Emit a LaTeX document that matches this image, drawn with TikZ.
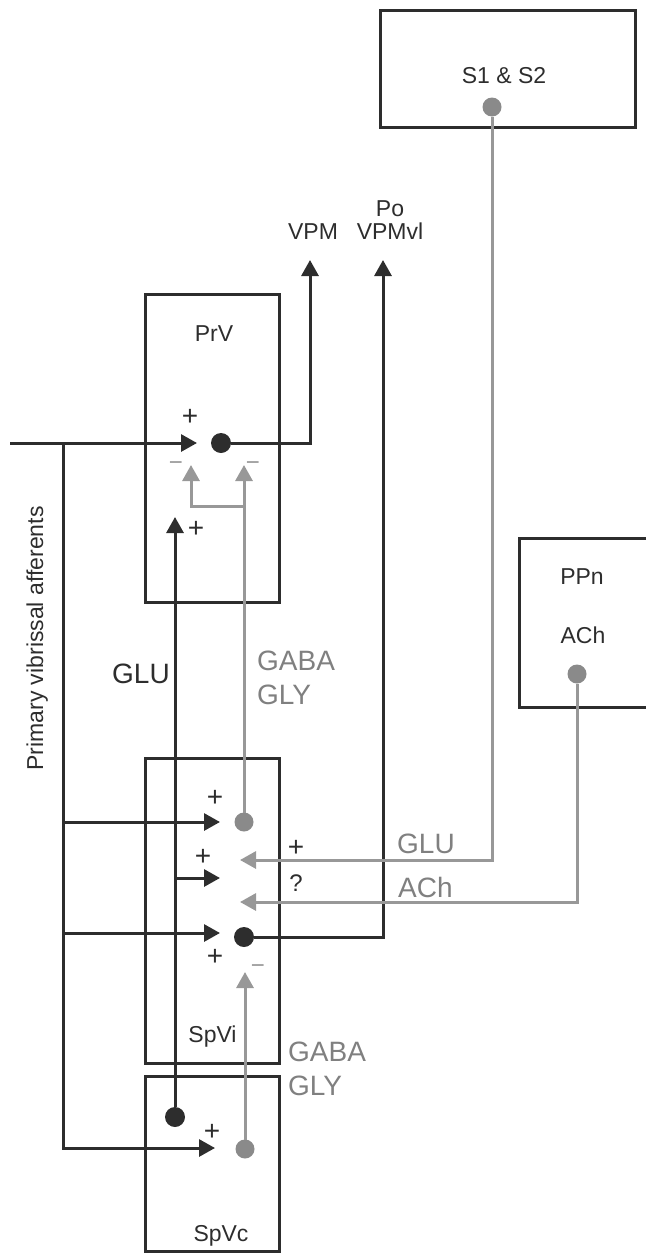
\documentclass[tikz,border=0pt]{standalone}
\usepackage{fontspec}
\setmainfont{Liberation Sans}
\usetikzlibrary{arrows.meta}
\definecolor{drk}{RGB}{45,45,45}
\definecolor{gry}{RGB}{152,152,152}
\definecolor{gdot}{RGB}{138,138,138}
\definecolor{gtxt}{RGB}{128,128,128}
\begin{document}
\begin{tikzpicture}[x=1pt, y=-1pt,
        box/.style={draw=drk, line width=3pt, outer sep=0, inner sep=0},
        lbl/.style={text=drk, inner sep=0, anchor=base, font=\fontsize{23}{26}\selectfont},
        biglbl/.style={inner sep=0, anchor=base west, font=\fontsize{28}{32}\selectfont},
        sgn/.style={text=drk, inner sep=0, font=\fontsize{24}{26}\selectfont},
        plus/.style={sgn, font=\fontsize{28}{30}\selectfont},
        dotd/.style={circle, fill=drk, inner sep=0, outer sep=0, minimum size=20pt},
        dotg/.style={circle, fill=gdot, inner sep=0, outer sep=0, minimum size=19pt},
        fib/.style={draw=drk, line width=3pt},
        gfib/.style={draw=gry, line width=3pt},
        tip/.style={-{Triangle[length=16pt, width=17pt]}}]
        \useasboundingbox (0,0) rectangle (646,1253);
%%% Start Kerngebiete
        \draw (212,448) node[box, minimum width=134pt, minimum height=308pt] (prv) {};
        \draw (212,910.5) node[box, minimum width=134pt, minimum height=305pt] (spvi) {};
        \draw (212,1163.5) node[box, minimum width=134pt, minimum height=175pt] (spvc) {};
        \draw (507.5,68.5) node[box, minimum width=255pt, minimum height=117pt] (sone) {};
        \draw (582.5,622.5) node[outer sep=0, inner sep=0, minimum width=127pt, minimum height=169pt] (ppn) {};
        \draw[fib] (ppn.north east) -- (ppn.north west) -- (ppn.south west) -- (ppn.south east);
%%% End Kerngebiete
%%% Start Beschriftung
        \draw (214,341) node[lbl] (prvname) {PrV};
        \draw (212.5,1042) node[lbl] (spviname) {SpVi};
        \draw (221,1241) node[lbl] (spvcname) {SpVc};
        \draw (504,83) node[lbl] (sonename) {S1 \& S2};
        \draw (582,584) node[lbl] (ppnname) {PPn};
        \draw (583,643) node[lbl] (ppnach) {ACh};
        \draw (313,239) node[lbl] (vpm) {VPM};
        \draw (390,239) node[lbl] (vpmvl) {VPMvl};
        \draw (390,216) node[lbl] (po) {Po};
        \draw (43,638.5) node[lbl, rotate=90] (affname) {Primary vibrissal afferents};
        \draw (112,683) node[biglbl, text=drk] (glu) {GLU};
        \draw (257,670) node[biglbl, text=gtxt] (gabaup) {GABA};
        \draw (257,704) node[biglbl, text=gtxt] (glyup) {GLY};
        \draw (288,1061) node[biglbl, text=gtxt] (gabalow) {GABA};
        \draw (288,1095) node[biglbl, text=gtxt] (glylow) {GLY};
        \draw (397,853) node[biglbl, text=gtxt] (glucx) {GLU};
        \draw (398,897) node[biglbl, text=gtxt] (achppn) {ACh};
%%% End Beschriftung
%%% Start Zellen
        \draw (221,443) node[dotd] (prvdot) {};
        \draw (492,107) node[dotg] (sonedot) {};
        \draw (577,674) node[dotg] (ppndot) {};
        \draw (244,822) node[dotg] (spvig) {};
        \draw (244,937) node[dotd] (spvid) {};
        \draw (175,1117) node[dotd] (spvcd) {};
        \draw (245,1149) node[dotg] (spvcg) {};
%%% End Zellen
%%% Start Endpunkte
        \coordinate (aff) at (10,443);
        \coordinate (affj) at (63,443);
        \coordinate (prvin) at (197,443);
        \coordinate (vpmtip) at (310,260);
        \coordinate (vpmvltip) at (383,260);
        \coordinate (prvglu) at (175,517);
        \coordinate (prvinhl) at (191,465);
        \coordinate (prvinhr) at (244,465);
        \coordinate (prvfork) at (244,506);
        \coordinate (spviin1) at (220,822);
        \coordinate (spviin2) at (220,878);
        \coordinate (spviin3) at (220,933);
        \coordinate (spviglu) at (240,860);
        \coordinate (spviach) at (240,902);
        \coordinate (spviinh) at (245,972);
        \coordinate (spvcin) at (215,1148);
%%% End Endpunkte
%%% Start Bahnen
        \draw[fib, tip] (aff) -- (prvin);
        \draw[fib, tip] (affj) |- (spviin1);
        \draw[fib, tip] (affj) |- (spviin3);
        \draw[fib, tip] (affj) |- (spvcin);
        \draw[fib, tip] (spvcd |- spviin2) -- (spviin2);
        \draw[fib, tip] (spvcd) -- (prvglu);
        \draw[fib, tip] (prvdot) -| (vpmtip);
        \draw[fib, tip] (spvid) -| (vpmvltip);
        \draw[gfib, tip] (spvig) -- (prvinhr);
        \draw[gfib, tip] (prvfork) -| (prvinhl);
        \draw[gfib, tip] (sonedot) |- (spviglu);
        \draw[gfib, tip] (ppndot) |- (spviach);
        \draw[gfib, tip] (spvcg) -- (spviinh);
%%% End Bahnen
%%% Start Vorzeichen
        \draw (190,417) node[plus] {+};
        \draw (196,529) node[plus] {+};
        \draw (176,470.5) node[sgn, text=gry, anchor=base] {−};
        \draw (253,470.5) node[sgn, text=gry, anchor=base] {−};
        \draw (215,798) node[plus] {+};
        \draw (203,857) node[plus] {+};
        \draw (296,848) node[plus] {+};
        \draw (296,883) node[sgn] {?};
        \draw (215,957) node[plus] {+};
        \draw (258,973.5) node[sgn, text=gry, anchor=base] {−};
        \draw (212,1132) node[plus] {+};
%%% End Vorzeichen
\end{tikzpicture}
\end{document}
